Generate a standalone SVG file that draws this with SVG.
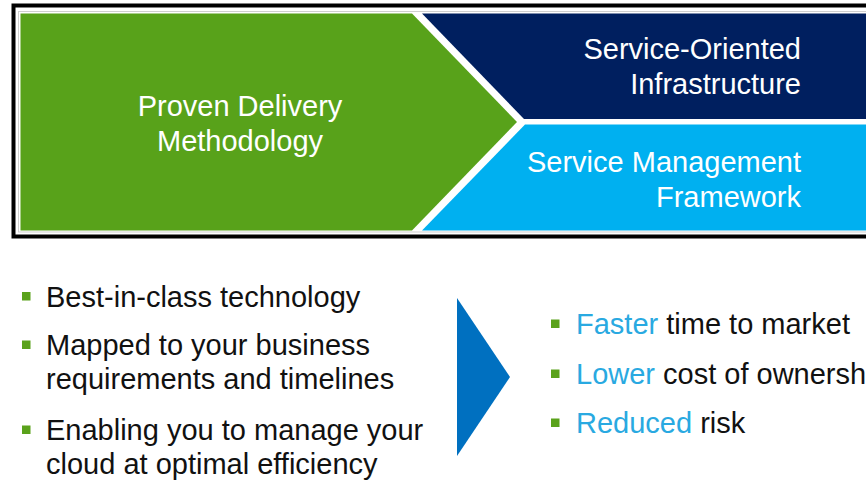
<svg xmlns="http://www.w3.org/2000/svg" width="866" height="480" viewBox="0 0 866 480">
  <style>
    .t { font-family: "Liberation Sans", Arial, sans-serif; font-size: 29px; }
    .w { fill: #ffffff; }
    .k { fill: #111111; }
    .hl { fill: #29a9e1; }
    .sq { fill: #5aa21b; }
  </style>
  <rect width="866" height="480" fill="#ffffff"/>

  <!-- outer frame -->
  <g id="frame">
    <rect x="13.5" y="5.5" width="870" height="231" fill="none" stroke="#000000" stroke-width="4"/>
    <rect x="18.5" y="11.5" width="860" height="220.5" fill="none" stroke="#cfcfcf" stroke-width="1"/>
  </g>

  <!-- top banner -->
  <g id="soi">
    <polygon points="422,13.5 866,13.5 866,119 524,119" fill="#001f5f"/>
    <text class="t w" text-anchor="end" x="801" y="59">Service-Oriented</text>
    <text class="t w" text-anchor="end" x="801" y="94">Infrastructure</text>
  </g>
  <g id="smf">
    <polygon points="525,124.5 866,124.5 866,230.5 422,230.5" fill="#00b0f0"/>
    <text class="t w" text-anchor="end" x="801" y="172">Service Management</text>
    <text class="t w" text-anchor="end" x="801" y="207">Framework</text>
  </g>
  <g id="delivery">
    <polygon points="20.5,13.5 412,13.5 517,122 412,230.5 20.5,230.5" fill="#58a21a"/>
    <text class="t w" text-anchor="middle" x="240" y="116">Proven Delivery</text>
    <text class="t w" text-anchor="middle" x="240" y="151">Methodology</text>
  </g>

  <!-- arrow between the lists -->
  <g id="connectors">
    <polygon points="457,298 510,377 457,456" fill="#0070c0"/>
  </g>

  <!-- capabilities -->
  <g id="capabilities">
    <rect class="sq" x="22" y="292" width="8.5" height="8.5"/>
    <text class="t k" x="46" y="306.5">Best-in-class technology</text>
    <rect class="sq" x="22" y="340.5" width="8.5" height="8.5"/>
    <text class="t k" x="46" y="355">Mapped to your business</text>
    <text class="t k" x="46" y="389">requirements and timelines</text>
    <rect class="sq" x="22" y="425.5" width="8.5" height="8.5"/>
    <text class="t k" x="46" y="440">Enabling you to manage your</text>
    <text class="t k" x="46" y="474">cloud at optimal efficiency</text>
  </g>

  <!-- benefits -->
  <g id="benefits">
    <rect class="sq" x="551" y="319.5" width="8.5" height="8.5"/>
    <text class="t" x="576" y="334"><tspan class="hl">Faster</tspan><tspan class="k"> time to market</tspan></text>
    <rect class="sq" x="551" y="369.5" width="8.5" height="8.5"/>
    <text class="t" x="576" y="384"><tspan class="hl">Lower</tspan><tspan class="k"> cost of ownership</tspan></text>
    <rect class="sq" x="551" y="418.5" width="8.5" height="8.5"/>
    <text class="t" x="576" y="433"><tspan class="hl">Reduced</tspan><tspan class="k"> risk</tspan></text>
  </g>
</svg>
